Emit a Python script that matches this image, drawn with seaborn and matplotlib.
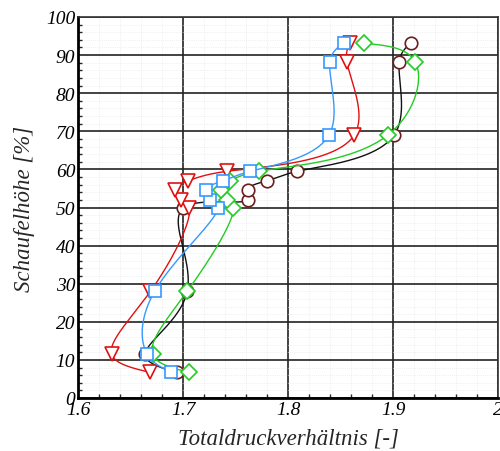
import numpy as np
import pandas as pd
import matplotlib
matplotlib.use("Agg")
import matplotlib.pyplot as plt
import seaborn as sns
from matplotlib.ticker import MultipleLocator

# ---- data ----
heights = [6.7, 11.5, 28.0, 49.8, 52.0, 54.7, 57.0, 59.5, 69.0, 88.3, 93.1]
x_circle = [1.694, 1.664, 1.704, 1.700, 1.762, 1.762, 1.780, 1.809, 1.901, 1.906, 1.917]
x_triangle = [1.669, 1.632, 1.669, 1.706, 1.698, 1.692, 1.705, 1.742, 1.863, 1.856, 1.859]
x_diamond = [1.706, 1.671, 1.704, 1.748, 1.742, 1.736, 1.745, 1.772, 1.895, 1.921, 1.872]
x_square = [1.689, 1.666, 1.673, 1.733, 1.726, 1.722, 1.738, 1.764, 1.839, 1.840, 1.853]

x_ticks = [1.6, 1.7, 1.8, 1.9, 2.0]
x_ticklabels = ["1.6", "1.7", "1.8", "1.9", "2"]
y_ticks = list(range(0, 101, 10))

sns.set_style("white")
plt.rcParams["font.family"] = ["Liberation Serif", "DejaVu Serif"]

W, H = 500, 452
fig = plt.figure(figsize=(W / 100, H / 100), dpi=100)
ax = fig.add_axes([78 / W, 1 - 399 / H, 420 / W, 381 / H])
ax.set_xlim(1.6, 2.0)
ax.set_ylim(0, 100)


def natural_spline(t, v, tt):
    t = np.asarray(t, float)
    v = np.asarray(v, float)
    n = len(t)
    h = np.diff(t)
    A = np.zeros((n, n))
    b = np.zeros(n)
    A[0, 0] = 1
    A[-1, -1] = 1
    for i in range(1, n - 1):
        A[i, i - 1] = h[i - 1]
        A[i, i] = 2 * (h[i - 1] + h[i])
        A[i, i + 1] = h[i]
        b[i] = 6 * ((v[i + 1] - v[i]) / h[i] - (v[i] - v[i - 1]) / h[i - 1])
    M = np.linalg.solve(A, b)
    idx = np.clip(np.searchsorted(t, tt) - 1, 0, n - 2)
    t0, t1 = t[idx], t[idx + 1]
    hh = t1 - t0
    a = (t1 - tt) / hh
    c = (tt - t0) / hh
    return (a * v[idx] + c * v[idx + 1]
            + ((a ** 3 - a) * M[idx] + (c ** 3 - c) * M[idx + 1]) * hh ** 2 / 6)


def smooth_curve(xs, ys):
    xs = np.asarray(xs, float)
    ys = np.asarray(ys, float)
    px = xs / 0.4 * 420
    py = ys / 100 * 381
    d = np.hypot(np.diff(px), np.diff(py))
    t = np.concatenate([[0], np.cumsum(np.sqrt(d))])
    tt = np.linspace(0, t[-1], 600)
    return natural_spline(t, xs, tt), natural_spline(t, ys, tt)


series = [
    ("circle", x_circle, "o", "#111111", "#6a1f1f", 9.0),
    ("triangle", x_triangle, "v", "#e01010", "#e01010", 9.5),
    ("diamond", x_diamond, "D", "#22cc22", "#22cc22", 7.8),
    ("square", x_square, "s", "#3399ff", "#3399ff", 8.0),
]

ax.xaxis.set_major_locator(MultipleLocator(0.1))
ax.xaxis.set_minor_locator(MultipleLocator(0.02))
ax.yaxis.set_major_locator(MultipleLocator(10))
ax.yaxis.set_minor_locator(MultipleLocator(2))
ax.grid(which="minor", color="#e4e4e4", linestyle=":", linewidth=0.5)
ax.grid(which="major", color="#222222", linestyle="-", linewidth=1.2)
ax.set_axisbelow(True)

z = 3
for name, xs, mk, lc, mc, ms in series:
    cx, cy = smooth_curve(xs, heights)
    df = pd.DataFrame({"x": cx, "y": cy})
    sns.lineplot(data=df, x="x", y="y", sort=False, estimator=None,
                 color=lc, linewidth=1.0, ax=ax, zorder=z)
    ax.plot(xs, heights, linestyle="none", marker=mk, markersize=ms,
            markerfacecolor="white", markeredgecolor=mc,
            markeredgewidth=1.2, zorder=z + 0.5, clip_on=False)
    z += 1

ax.set_xticks(x_ticks)
ax.set_xticklabels(x_ticklabels)
ax.set_yticks(y_ticks)
ax.tick_params(which="major", direction="in", length=6, width=1.6,
               labelsize=14, top=False, right=False, colors="black", pad=2)
ax.tick_params(which="minor", direction="in", length=3, width=1.0,
               top=False, right=False, bottom=True, left=True)
for lab in ax.get_xticklabels() + ax.get_yticklabels():
    lab.set_fontstyle("italic")

for side in ["left", "bottom"]:
    ax.spines[side].set_linewidth(2.0)
    ax.spines[side].set_color("black")
for side in ["top", "right"]:
    ax.spines[side].set_linewidth(1.2)
    ax.spines[side].set_color("#333333")

ax.set_xlabel("Totaldruckverhältnis [-]", fontsize=16.5, fontstyle="italic", labelpad=7)
ax.set_ylabel("Schaufelhöhe [%]", fontsize=16.5, fontstyle="italic", labelpad=8)

fig.savefig("out.png", dpi=100)
